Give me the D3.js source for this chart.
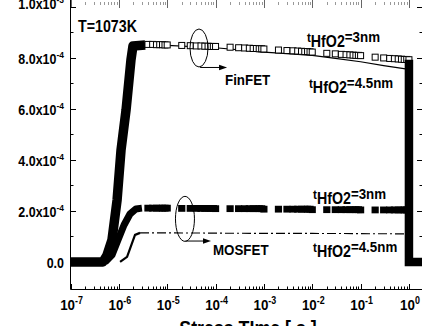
<!DOCTYPE html>
<html><head><meta charset="utf-8">
<script src="https://cdn.jsdelivr.net/npm/d3@7"></script>
<style>body{margin:0;background:#fff}svg{display:block}</style>
</head><body>
<script>
// ---------- data ----------
const xTickExp = [-7, -6, -5, -4, -3, -2, -1, 0];
const yTickVals = [0, 2e-4, 4e-4, 6e-4, 8e-4, 1e-3];
const yTickMant = ["0.0", "2.0", "4.0", "6.0", "8.0", "1.0"];
const yTickPow = ["", "-4", "-4", "-4", "-4", "-3"];

// FinFET, t_HfO2 = 3 nm : dense rising edge + open squares on the plateau
const finRiseT = [1e-7, 4.7e-7, 5.7e-7, 7.2e-7, 9.2e-7, 1.11e-6, 1.41e-6, 1.78e-6, 1.96e-6, 3.5e-6];
const finRiseV = [0, 0, 0.027e-3, 0.086e-3, 0.243e-3, 0.439e-3, 0.596e-3, 0.792e-3, 0.847e-3, 0.851e-3];
const finSqT = [4e-6,5e-6,6e-6,7e-6,8e-6,9e-6,
  1e-5,2e-5,3e-5,4e-5,5e-5,6e-5,7e-5,8e-5,9e-5,
  1e-4,2e-4,3e-4,4e-4,5e-4,6e-4,7e-4,8e-4,9e-4,
  1e-3,2e-3,3e-3,4e-3,5e-3,6e-3,7e-3,8e-3,9e-3,
  1e-2,2e-2,3e-2,4e-2,5e-2,6e-2,7e-2,8e-2,9e-2,
  1e-1,2e-1,3e-1,4e-1,5e-1,6e-1,7e-1,8e-1,9e-1,1];
const finSqV = [0.853e-3,0.853e-3,0.852e-3,0.852e-3,0.852e-3,0.851e-3,
  0.851e-3,0.849e-3,0.848e-3,0.847e-3,0.847e-3,0.846e-3,0.846e-3,0.845e-3,0.845e-3,
  0.845e-3,0.842e-3,0.840e-3,0.839e-3,0.838e-3,0.837e-3,0.837e-3,0.836e-3,0.836e-3,
  0.835e-3,0.831e-3,0.829e-3,0.828e-3,0.827e-3,0.826e-3,0.825e-3,0.825e-3,0.824e-3,
  0.823e-3,0.818e-3,0.816e-3,0.814e-3,0.813e-3,0.812e-3,0.811e-3,0.810e-3,0.810e-3,
  0.809e-3,0.803e-3,0.800e-3,0.798e-3,0.797e-3,0.796e-3,0.795e-3,0.794e-3,0.794e-3,0.793e-3];
const finDropT = [1, 1, 2];
const finDropV = [0.793e-3, 0, 0];

// FinFET, t_HfO2 = 4.5 nm : thin solid line
const fin45T = [3.5e-6, 1e-5, 1e-4, 1e-3, 3e-3, 1e-2, 3e-2, 1e-1, 3e-1, 1];
const fin45V = [0.851e-3, 0.849e-3, 0.840e-3, 0.823e-3, 0.817e-3, 0.810e-3, 0.798e-3, 0.785e-3, 0.770e-3, 0.755e-3];

// MOSFET, t_HfO2 = 3 nm : dense rising edge + filled squares
const mosRiseT = [5.2e-7, 7.2e-7, 9.6e-7, 1.28e-6, 1.70e-6, 2.26e-6, 3e-6];
const mosRiseV = [0, 0.027e-3, 0.086e-3, 0.145e-3, 0.188e-3, 0.208e-3, 0.211e-3];
const mosSqT = finSqT;
const mosSqV = [0.211e-3,0.211e-3,0.211e-3,0.211e-3,0.211e-3,0.211e-3,
  0.211e-3,0.210e-3,0.210e-3,0.210e-3,0.210e-3,0.210e-3,0.210e-3,0.210e-3,0.210e-3,
  0.209e-3,0.209e-3,0.209e-3,0.209e-3,0.209e-3,0.209e-3,0.209e-3,0.209e-3,0.209e-3,
  0.207e-3,0.207e-3,0.207e-3,0.207e-3,0.207e-3,0.207e-3,0.207e-3,0.207e-3,0.207e-3,
  0.205e-3,0.205e-3,0.205e-3,0.205e-3,0.205e-3,0.205e-3,0.205e-3,0.205e-3,0.205e-3,
  0.204e-3,0.204e-3,0.204e-3,0.204e-3,0.204e-3,0.204e-3,0.204e-3,0.204e-3,0.204e-3,0.204e-3];

// MOSFET, t_HfO2 = 4.5 nm : thin rise + dash-dot line
const mos45T = [1.06e-6, 1.48e-6, 2.16e-6, 2.74e-6, 1e-5, 1e-4, 1e-3, 1e-2, 1e-1, 1];
const mos45V = [0, 0.020e-3, 0.106e-3, 0.114e-3, 0.114e-3, 0.113e-3, 0.112e-3, 0.112e-3, 0.111e-3, 0.110e-3];

// ---------- layout ----------
const W = 422, H = 326;
const FONT = "'Liberation Sans', Arial, Helvetica, sans-serif";
const SX = 0.89;
const x = d3.scaleLog().domain([1e-7, 2]).range([70.5, 423.5]);
const y = d3.scaleLinear().domain([-1.08e-4, 1.035e-3]).range([289.5, -2]);

const svg = d3.select("body").append("svg").attr("width", W).attr("height", H)
  .style("background", "#fff");

function rich(px, py, parts, size, anchor) {
  const g = svg.append("g").attr("transform", `translate(${px},${py}) scale(${SX},1)`);
  const t = g.append("text").attr("text-anchor", anchor || "start")
    .attr("font-family", FONT).attr("font-weight", "bold").attr("font-size", size).attr("fill", "#000");
  parts.forEach(p => t.append("tspan").attr("font-size", p.size || size).attr("dy", p.dy || 0).text(p.text));
  return t;
}

// ---------- data marks ----------
const plot = svg.append("g");
const line = (T, V) => d3.line().x((d, i) => x(T[i])).y((d, i) => y(V[i]))(T);

plot.append("path").attr("d", line(finRiseT, finRiseV)).attr("fill", "none")
  .attr("stroke", "#000").attr("stroke-width", 9.5).attr("stroke-linejoin", "round");
plot.append("path").attr("d", line(mosRiseT, mosRiseV)).attr("fill", "none")
  .attr("stroke", "#000").attr("stroke-width", 7).attr("stroke-linejoin", "round");
plot.append("path").attr("d", line(mos45T.slice(0, 4), mos45V.slice(0, 4))).attr("fill", "none")
  .attr("stroke", "#000").attr("stroke-width", 2.2);
plot.append("path").attr("d", line(mos45T.slice(3), mos45V.slice(3))).attr("fill", "none")
  .attr("stroke", "#000").attr("stroke-width", 1.1).attr("stroke-dasharray", "9,3,2,3");
plot.append("path").attr("d", line(fin45T, fin45V)).attr("fill", "none")
  .attr("stroke", "#000").attr("stroke-width", 1.2);
plot.selectAll("rect.fsq").data(finSqT).join("rect").attr("class", "fsq")
  .attr("x", d => x(d) - 3).attr("y", (d, i) => y(finSqV[i]) - 3)
  .attr("width", 6).attr("height", 6).attr("fill", "#fff").attr("stroke", "#000").attr("stroke-width", 1);
plot.selectAll("rect.msq").data(mosSqT).join("rect").attr("class", "msq")
  .attr("x", d => x(d) - 3.6).attr("y", (d, i) => y(mosSqV[i]) - 3.4)
  .attr("width", 7.2).attr("height", 6.8).attr("fill", "#000");
plot.append("path").attr("d", line(finDropT, finDropV)).attr("fill", "none")
  .attr("stroke", "#000").attr("stroke-width", 8.5).attr("stroke-linejoin", "miter");

// ---------- axes ----------
const ax = svg.append("g").attr("stroke", "#000").attr("stroke-width", 1).attr("fill", "none");
ax.append("line").attr("x1", 70.5).attr("x2", 70.5).attr("y1", -2).attr("y2", 289.5);
ax.append("line").attr("x1", 70.5).attr("x2", 423.5).attr("y1", 289.5).attr("y2", 289.5);

const minorX = [];
xTickExp.forEach(e => { for (let k = 2; k <= 9; k++) { const v = k * Math.pow(10, e); if (v <= 2) minorX.push(v); } });
xTickExp.forEach(e => {
  const px = Math.round(x(Math.pow(10, e))) + 0.5;
  ax.append("line").attr("x1", px).attr("x2", px).attr("y1", 289.5).attr("y2", 284);
  ax.append("line").attr("x1", px).attr("x2", px).attr("y1", 0).attr("y2", 8).attr("stroke", "#666");
});
minorX.forEach(v => {
  const px = Math.round(x(v)) + 0.5;
  ax.append("line").attr("x1", px).attr("x2", px).attr("y1", 289.5).attr("y2", 286.5);
  ax.append("line").attr("x1", px).attr("x2", px).attr("y1", 2).attr("y2", 5).attr("stroke", "#999");
});
const yMinor = [1e-4, 3e-4, 5e-4, 7e-4, 9e-4];
yTickVals.forEach(v => {
  const py = Math.round(y(v)) + 0.5;
  ax.append("line").attr("x1", 70.5).attr("x2", 76).attr("y1", py).attr("y2", py);
  ax.append("line").attr("x1", 417).attr("x2", 423).attr("y1", py).attr("y2", py);
});
yMinor.forEach(v => {
  const py = Math.round(y(v)) + 0.5;
  ax.append("line").attr("x1", 70.5).attr("x2", 73.5).attr("y1", py).attr("y2", py);
  ax.append("line").attr("x1", 419.5).attr("x2", 423).attr("y1", py).attr("y2", py);
});

// tick labels
yTickVals.forEach((v, i) => {
  const parts = [{ text: yTickMant[i] + (yTickPow[i] ? "x10" : "") }];
  if (yTickPow[i]) parts.push({ text: yTickPow[i], size: 9.5, dy: -6 });
  const by = (v >= 1e-3) ? y(v) + 2 : y(v) + 6;
  rich(64, by, parts, 14, "end");
});
xTickExp.forEach(e => {
  rich(x(Math.pow(10, e)) + 1, 310, [{ text: "10" }, { text: String(e), size: 10, dy: -6 }], 15, "middle");
});

// axis title (cut by the frame of the picture)
rich(248, 335, [{ text: "Stress TIme [ s ]" }], 20, "middle");

// ---------- annotations ----------
rich(78, 32, [{ text: "T=1073K" }], 16, "start");

const ann = svg.append("g").attr("fill", "none").attr("stroke", "#000").attr("stroke-width", 1);
// FinFET ellipse and arrow
ann.append("ellipse").attr("cx", x(4.55e-5)).attr("cy", y(0.839e-3)).attr("rx", 9).attr("ry", 19);
ann.append("line").attr("x1", x(4.8e-5)).attr("x2", x(1.4e-4)).attr("y1", y(0.7626e-3)).attr("y2", y(0.7626e-3));
svg.append("path").attr("d", `M${x(1.73e-4)},${y(0.7626e-3)} l-8,-2.8 l0,5.6 z`).attr("fill", "#000");
rich(x(1.57e-4), y(0.692e-3), [{ text: "FinFET" }], 15, "start");

// MOSFET ellipse and arrow
ann.append("ellipse").attr("cx", x(2.33e-5)).attr("cy", y(0.169e-3)).attr("rx", 9.5).attr("ry", 22.5);
ann.append("line").attr("x1", x(2.4e-5)).attr("x2", x(6.5e-5)).attr("y1", y(0.082e-3)).attr("y2", y(0.082e-3));
svg.append("path").attr("d", `M${x(8.05e-5)},${y(0.082e-3)} l-8,-2.8 l0,5.6 z`).attr("fill", "#000");
rich(x(8.85e-5), y(0.0273e-3), [{ text: "MOSFET" }], 15, "start");

// thickness labels
function tlabel(t, v, val) {
  rich(x(t), y(v), [{ text: "t", size: 13 }, { text: "HfO2", size: 16, dy: 5 }, { text: "=" + val, size: 15, dy: -5 }], 15, "start");
}
tlabel(7.78e-3, 0.8626e-3, "3nm");
tlabel(8.57e-3, 0.6822e-3, "4.5nm");
tlabel(1.04e-2, 0.2469e-3, "3nm");
tlabel(1.04e-2, 0.0391e-3, "4.5nm");
</script>
</body></html>
